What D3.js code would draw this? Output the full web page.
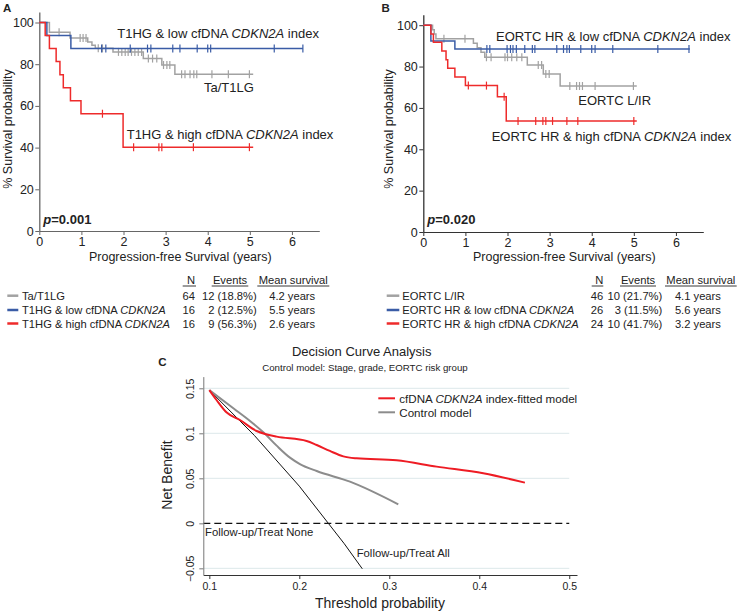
<!DOCTYPE html>
<html><head><meta charset="utf-8">
<script src="https://cdn.jsdelivr.net/npm/d3@7"></script>
<style>body{margin:0;background:#fff}svg{display:block}text{font-family:'Liberation Sans',Arial,sans-serif;fill:#222}</style>
</head><body>
<svg id="c" width="738" height="613"></svg>
<script>
// ---------------- DATA ----------------
// Panel A (Kaplan-Meier)
const grayA_t = [0, 0.24, 0.73, 1.15, 1.25, 1.33, 1.75, 2.47, 2.91, 3.22];
const grayA_s = [100, 95.3, 92.6, 90.6, 89.1, 87.6, 85.9, 82.7, 79.6, 75.2];
const grayA_end = 5.08;
const grayA_cens = [0.47, 0.97, 1.04, 1.11, 1.4, 1.5, 1.88, 1.96, 2.04, 2.11, 2.19, 2.27, 2.35, 2.43, 2.59, 2.69, 2.79, 2.95, 3.03, 3.1, 3.38, 3.46, 3.58, 3.67, 3.74, 4.1, 4.49, 4.99];
const blueA_t = [0, 0.18, 0.75];
const blueA_s = [100, 93.75, 87.5];
const blueA_end = 6.26;
const blueA_cens = [1.48, 1.58, 2.16, 2.57, 2.65, 3.17, 3.34, 3.75, 4.0, 4.07, 5.58, 6.26];
const redA_t = [0, 0.14, 0.24, 0.40, 0.49, 0.57, 0.74, 0.99, 1.99];
const redA_s = [100, 93.75, 87.5, 81.25, 75, 68.75, 62.5, 56.25, 40.2];
const redA_end = 5.08;
const redA_cens = [1.5, 2.24, 2.84, 2.91, 3.66, 4.99];

// Panel B (Kaplan-Meier)
const grayB_t = [0, 0.22, 0.26, 0.30, 1.19, 1.28, 1.37, 1.46, 2.47, 2.85, 3.25];
const grayB_s = [100, 97.8, 95.7, 93.5, 91.3, 89.1, 86.9, 84.5, 80.8, 76.4, 70.6];
const grayB_end = 5.07;
const grayB_cens = [0.49, 0.99, 1.5, 1.61, 1.94, 2.0, 2.1, 2.22, 2.34, 2.73, 2.81, 2.91, 2.99, 3.48, 3.64, 3.71, 3.78, 4.08, 4.99];
const blueB_t = [0, 0.18, 0.75];
const blueB_s = [100, 92.3, 88.5];
const blueB_end = 6.33;
const blueB_cens = [1.51, 1.58, 1.99, 2.07, 2.13, 2.21, 2.41, 2.59, 2.65, 3.17, 3.33, 3.41, 3.47, 3.74, 4.0, 4.08, 4.50, 5.57, 6.31];
const redB_t = [0, 0.18, 0.24, 0.44, 0.54, 0.58, 0.75, 1.0, 1.76, 1.97];
const redB_s = [100, 95.8, 91.7, 87.5, 83.3, 79.2, 75.0, 70.8, 65.4, 53.7];
const redB_end = 5.07;
const redB_cens = [1.07, 1.5, 1.92, 2.25, 2.67, 2.84, 2.91, 3.07, 3.41, 3.67, 5.0];

const kmYTicks = [0, 20, 40, 60, 80, 100];
const kmXTicks = [0, 1, 2, 3, 4, 5, 6];

// Tables
const tableA_labels = [["Ta/T1LG"], ["T1HG & low cfDNA ", "CDKN2A"], ["T1HG & high cfDNA ", "CDKN2A"]];
const tableA_N = ["64", "16", "16"];
const tableA_events = ["12 (18.8%)", "2 (12.5%)", "9 (56.3%)"];
const tableA_mean = ["4.2 years", "5.5 years", "2.6 years"];
const tableB_labels = [["EORTC L/IR"], ["EORTC HR & low cfDNA ", "CDKN2A"], ["EORTC HR & high cfDNA ", "CDKN2A"]];
const tableB_N = ["46", "26", "24"];
const tableB_events = ["10 (21.7%)", "3 (11.5%)", "10 (41.7%)"];
const tableB_mean = ["4.1 years", "5.6 years", "3.2 years"];

// Panel C (decision curve)
const thr_model = [0.1, 0.108, 0.119, 0.134, 0.1526, 0.1619, 0.1748, 0.2081, 0.2193, 0.234, 0.2489, 0.2637, 0.3081, 0.3526, 0.4044, 0.4507];
const nb_model  = [0.148, 0.137, 0.1233, 0.1148, 0.1026, 0.0993, 0.0963, 0.0915, 0.087, 0.0804, 0.0744, 0.0722, 0.070, 0.063, 0.0556, 0.0452];
const thr_control = [0.1, 0.1267, 0.1452, 0.16, 0.1748, 0.1896, 0.2007, 0.2193, 0.2563, 0.31];
const nb_control  = [0.148, 0.1278, 0.1137, 0.1011, 0.0863, 0.073, 0.0659, 0.0581, 0.0463, 0.0211];
const thr_all = [0.1, 0.15, 0.2, 0.25, 0.27];
const nb_all  = [0.148, 0.0977, 0.0413, -0.0227, -0.0505];
const dcaXTicks = [0.1, 0.2, 0.3, 0.4, 0.5];
const dcaYTicks = [-0.05, 0, 0.05, 0.1, 0.15];

// ---------------- DRAW ----------------
const RED = "#ee2b2b", BLUE = "#3a5ca6", GRAY = "#a2a2a2";
const svg = d3.select("#c");
svg.append("rect").attr("width", 738).attr("height", 613).attr("fill", "#fff");

function addItal(sel, parts) {
  parts.forEach((p, i) => sel.append("tspan").text(p).attr("font-style", i === 1 ? "italic" : null));
}

function kmPanel(o) {
  const g = svg.append("g");
  const x = d3.scaleLinear().domain([0, 6.65]).range([o.x0, o.x0 + 280]);
  const y = d3.scaleLinear().domain([0, 105]).range([o.y0, o.y0 - 105 * o.ppu]);
  // axes
  const ya = g.append("g").attr("transform", `translate(${o.x0},0)`)
    .call(d3.axisLeft(y).tickValues(kmYTicks).tickSize(4).tickPadding(1.5).tickSizeOuter(0));
  const xa = g.append("g").attr("transform", `translate(0,${o.y0})`)
    .call(d3.axisBottom(x).tickValues(kmXTicks).tickSize(4).tickPadding(2.5).tickSizeOuter(0).tickFormat(d3.format("d")));
  [ya, xa].forEach(a => {
    a.selectAll("path,line").attr("stroke", o.axisColor).attr("stroke-width", 1);
    a.selectAll("text").attr("font-size", 12.5).attr("fill", "#222").attr("font-family", "'Liberation Sans',Arial,sans-serif");
  });
  ya.select("path").attr("stroke-width", 1.3);
  const line = d3.line().x(d => x(d[0])).y(d => y(d[1])).curve(d3.curveStepAfter);
  o.series.forEach(s => {
    const pts = s.t.map((t, i) => [t, s.s[i]]);
    pts.push([s.end, s.s[s.s.length - 1]]);
    g.append("path").attr("d", line(pts)).attr("fill", "none").attr("stroke", s.color).attr("stroke-width", 1.5);
    s.cens.forEach(c => {
      let v = s.s[0];
      s.t.forEach((t, i) => { if (t <= c) v = s.s[i]; });
      g.append("line").attr("x1", x(c)).attr("x2", x(c)).attr("y1", y(v) - 4).attr("y2", y(v) + 4)
        .attr("stroke", s.color).attr("stroke-width", 1.2);
    });
  });
  // labels
  o.labels.forEach(l => {
    const t = g.append("text").attr("x", l.x).attr("y", l.y).attr("font-size", 13);
    addItal(t, l.parts);
  });
  const p = g.append("text").attr("x", o.x0 + 4).attr("y", 224).attr("font-size", 13).attr("font-weight", "bold");
  p.append("tspan").text("p").attr("font-style", "italic");
  p.append("tspan").text(o.p);
  g.append("text").attr("transform", `translate(${o.ylabX},129) rotate(-90)`).attr("text-anchor", "middle")
    .attr("font-size", 12.5).text("% Survival probability");
  g.append("text").attr("x", o.x0 + 141).attr("y", 260.5).attr("text-anchor", "middle")
    .attr("font-size", 12.5).text("Progression-free Survival (years)");
  g.append("text").attr("x", o.letterX).attr("y", 12).attr("font-size", 11.5).attr("font-weight", "bold").text(o.letter);
}

kmPanel({
  x0: 39.3, y0: 231, ppu: 2.085, axisColor: "#666", letter: "A", letterX: 3, ylabX: 12, p: "=0.001",
  series: [
    {t: grayA_t, s: grayA_s, end: grayA_end, cens: grayA_cens, color: GRAY},
    {t: blueA_t, s: blueA_s, end: blueA_end, cens: blueA_cens, color: BLUE},
    {t: redA_t, s: redA_s, end: redA_end, cens: redA_cens, color: RED}
  ],
  labels: [
    {x: 117.3, y: 38, parts: ["T1HG & low cfDNA ", "CDKN2A", " index"]},
    {x: 204, y: 92, parts: ["Ta/T1LG"]},
    {x: 126.7, y: 138.7, parts: ["T1HG & high cfDNA ", "CDKN2A", " index"]}
  ]
});
kmPanel({
  x0: 423.3, y0: 232, ppu: 2.068, axisColor: "#333", letter: "B", letterX: 381.5, ylabX: 393, p: "=0.020",
  series: [
    {t: grayB_t, s: grayB_s, end: grayB_end, cens: grayB_cens, color: GRAY},
    {t: blueB_t, s: blueB_s, end: blueB_end, cens: blueB_cens, color: BLUE},
    {t: redB_t, s: redB_s, end: redB_end, cens: redB_cens, color: RED}
  ],
  labels: [
    {x: 496, y: 41.4, parts: ["EORTC HR & low cfDNA ", "CDKN2A", " index"]},
    {x: 578.3, y: 104.7, parts: ["EORTC L/IR"]},
    {x: 491.7, y: 141.4, parts: ["EORTC HR & high cfDNA ", "CDKN2A", " index"]}
  ]
});

// tables
function table(o) {
  const g = svg.append("g").attr("font-size", 11.2);
  const hdr = [
    {t: "N", x: o.nR, a: "end", u: o.uN},
    {t: "Events", x: (o.uE[0] + o.uE[1]) / 2, a: "middle", u: o.uE},
    {t: "Mean survival", x: (o.uM[0] + o.uM[1]) / 2, a: "middle", u: o.uM}
  ];
  hdr.forEach(h => {
    g.append("text").attr("x", h.x).attr("y", 283.5).attr("text-anchor", h.a).text(h.t);
    g.append("line").attr("x1", h.u[0]).attr("x2", h.u[1]).attr("y1", 286).attr("y2", 286).attr("stroke", "#222").attr("stroke-width", 0.9);
  });
  const rowsY = [299.7, 314, 327.5];
  const cols = [GRAY, BLUE, RED];
  rowsY.forEach((ry, i) => {
    g.append("line").attr("x1", o.sw[0]).attr("x2", o.sw[1]).attr("y1", ry - 4).attr("y2", ry - 4)
      .attr("stroke", cols[i]).attr("stroke-width", 2.5);
    addItal(g.append("text").attr("x", o.lx).attr("y", ry), o.labels[i]);
    g.append("text").attr("x", o.nR).attr("y", ry).attr("text-anchor", "end").text(o.N[i]);
    g.append("text").attr("x", o.eR).attr("y", ry).attr("text-anchor", "end").text(o.ev[i]);
    g.append("text").attr("x", o.mC).attr("y", ry).attr("text-anchor", "middle").text(o.mean[i]);
  });
}
table({sw: [7.3, 18.3], lx: 22, nR: 195, eR: 256.7, mC: 292.2, uN: [182.7, 196], uE: [211.7, 248.3], uM: [257.3, 329.3],
  labels: tableA_labels, N: tableA_N, ev: tableA_events, mean: tableA_mean});
table({sw: [386.7, 399.3], lx: 402.3, nR: 603.3, eR: 662.3, mC: 697.9, uN: [591.7, 603.3], uE: [620, 656], uM: [665, 736.7],
  labels: tableB_labels, N: tableB_N, ev: tableB_events, mean: tableB_mean});

// Panel C
(function () {
  const g = svg.append("g");
  const x = d3.scaleLinear().domain([0.0933, 0.5086]).range([203.3, 577]);
  const y = d3.scaleLinear().domain([-0.0574, 0.163]).range([575, 376.6]);
  g.append("text").attr("x", 361.7).attr("y", 356.2).attr("text-anchor", "middle").attr("font-size", 13).text("Decision Curve Analysis");
  g.append("text").attr("x", 365).attr("y", 370.7).attr("text-anchor", "middle").attr("font-size", 9.7).text("Control model: Stage, grade, EORTC risk group");
  g.append("text").attr("x", 158.3).attr("y", 365.7).attr("font-size", 11.5).attr("font-weight", "bold").text("C");
  // gridlines
  dcaYTicks.filter(v => v !== 0).forEach(v => {
    g.append("line").attr("x1", x(0.0933)).attr("x2", x(0.5)).attr("y1", y(v)).attr("y2", y(v))
      .attr("stroke", "#dde8ea").attr("stroke-width", 1);
  });
  g.append("line").attr("x1", x(0.0933)).attr("x2", x(0.5)).attr("y1", y(0)).attr("y2", y(0))
    .attr("stroke", "#111").attr("stroke-width", 1.1).attr("stroke-dasharray", "7,4");
  // axes
  const xa = g.append("g").attr("transform", `translate(0,575)`)
    .call(d3.axisBottom(x).tickValues(dcaXTicks).tickSize(4).tickPadding(4).tickSizeOuter(0).tickFormat(d3.format(".1f")));
  xa.selectAll("path,line").attr("stroke", "#333");
  xa.selectAll("text").attr("font-size", 10.5).attr("fill", "#222").attr("font-family", "'Liberation Sans',Arial,sans-serif");
  const ya = g.append("g").attr("transform", `translate(203.3,0)`)
    .call(d3.axisLeft(y).tickValues(dcaYTicks).tickSize(4).tickSizeOuter(0).tickFormat(d => d === 0 ? "0" : d3.format("")(+d.toFixed(2))));
  ya.selectAll("path,line").attr("stroke", "#777");
  ya.selectAll("text").attr("font-size", 10.5).attr("fill", "#222").attr("font-family", "'Liberation Sans',Arial,sans-serif")
    .attr("x", null).attr("dy", null).attr("text-anchor", "middle").attr("dominant-baseline", "central")
    .attr("transform", "translate(-13.3,0) rotate(-90)");
  g.append("text").attr("transform", "translate(167,475) rotate(-90)").attr("text-anchor", "middle").attr("dominant-baseline", "central")
    .attr("font-size", 14).text("Net Benefit");
  g.append("text").attr("x", 380).attr("y", 608.3).attr("text-anchor", "middle").attr("font-size", 14).text("Threshold probability");
  // curves
  const lin = d3.line().x(d => x(d[0])).y(d => y(d[1]));
  g.append("path").attr("d", lin(thr_all.map((t, i) => [t, nb_all[i]])))
    .attr("fill", "none").attr("stroke", "#111").attr("stroke-width", 1);
  const sm = d3.line().x(d => x(d[0])).y(d => y(d[1])).curve(d3.curveMonotoneX);
  g.append("path").attr("d", sm(thr_control.map((t, i) => [t, nb_control[i]])))
    .attr("fill", "none").attr("stroke", "#8c8c8c").attr("stroke-width", 2);
  g.append("path").attr("d", sm(thr_model.map((t, i) => [t, nb_model[i]])))
    .attr("fill", "none").attr("stroke", "#ee1c24").attr("stroke-width", 2);
  // labels
  g.append("text").attr("x", 205).attr("y", 536.3).attr("font-size", 11.3).text("Follow-up/Treat None");
  g.append("text").attr("x", 356.7).attr("y", 556.7).attr("font-size", 11.3).text("Follow-up/Treat All");
  // legend
  g.append("line").attr("x1", 378.3).attr("x2", 395).attr("y1", 398.3).attr("y2", 398.3).attr("stroke", "#ee1c24").attr("stroke-width", 2);
  g.append("line").attr("x1", 378.3).attr("x2", 395).attr("y1", 412.3).attr("y2", 412.3).attr("stroke", "#8c8c8c").attr("stroke-width", 2);
  addItal(g.append("text").attr("x", 399.3).attr("y", 402.5).attr("font-size", 11.6), ["cfDNA ", "CDKN2A", " index-fitted model"]);
  g.append("text").attr("x", 399.3).attr("y", 416.5).attr("font-size", 11.6).text("Control model");
})();
</script>
</body></html>
